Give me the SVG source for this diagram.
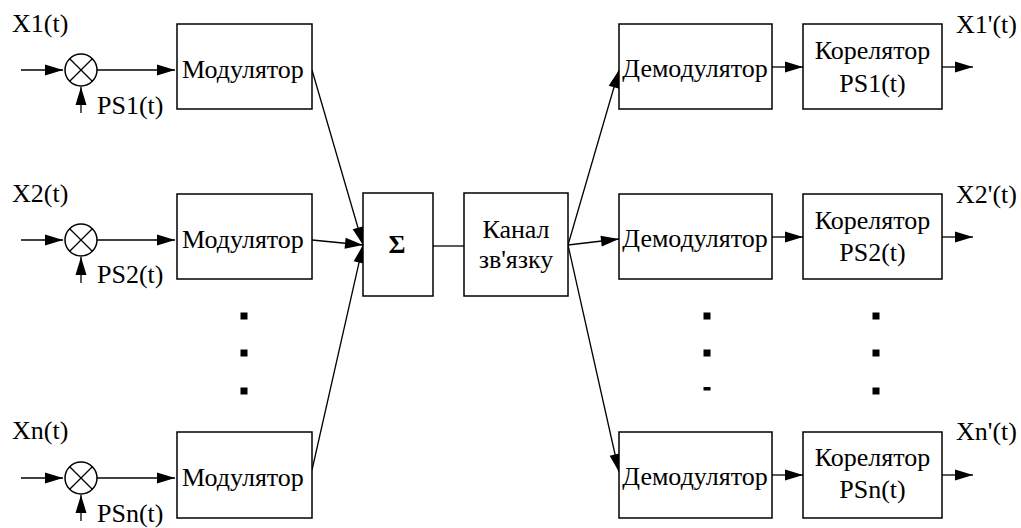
<svg xmlns="http://www.w3.org/2000/svg" width="1021" height="528" viewBox="0 0 1021 528">
<defs>
<marker id="ah" markerUnits="userSpaceOnUse" markerWidth="22" markerHeight="14" refX="18" refY="5.5" orient="auto" overflow="visible">
<path d="M0,0 L18,5.5 L0,11 Z" fill="#000"/>
</marker>
</defs>
<rect width="1021" height="528" fill="#fff"/>

<g id="connectors" fill="none" stroke="#000" stroke-width="1.3" marker-end="url(#ah)">
<line x1="21" y1="70" x2="63" y2="70"/>
<line x1="21" y1="240" x2="63" y2="240"/>
<line x1="21" y1="478" x2="63" y2="478"/>
<line x1="81" y1="113" x2="81" y2="87"/>
<line x1="81" y1="283" x2="81" y2="257"/>
<line x1="81" y1="521" x2="81" y2="495"/>
<line x1="97" y1="70" x2="175" y2="70"/>
<line x1="97" y1="240" x2="175" y2="240"/>
<line x1="97" y1="478" x2="175" y2="478"/>
<line x1="312" y1="70" x2="363" y2="245"/>
<line x1="312" y1="240" x2="363" y2="245"/>
<line x1="312" y1="470" x2="363" y2="245"/>
<line x1="433" y1="246" x2="464" y2="246" marker-end="none"/>
<line x1="568" y1="245" x2="619" y2="70"/>
<line x1="568" y1="245" x2="619" y2="239"/>
<line x1="568" y1="245" x2="619" y2="472"/>
<line x1="772" y1="67" x2="803" y2="67"/>
<line x1="772" y1="237" x2="803" y2="237"/>
<line x1="772" y1="475" x2="803" y2="475"/>
<line x1="942" y1="67" x2="973" y2="67"/>
<line x1="942" y1="237" x2="973" y2="237"/>
<line x1="942" y1="475" x2="973" y2="475"/>
</g>

<g id="labels" fill="#000">
<text style="font-family:'Liberation Serif',serif !important" font-family="Liberation Serif" font-size="26" x="12" y="32">X1(t)</text>
<text style="font-family:'Liberation Serif',serif !important" font-family="Liberation Serif" font-size="26" x="12" y="202">X2(t)</text>
<text style="font-family:'Liberation Serif',serif !important" font-family="Liberation Serif" font-size="26" x="12" y="439">Xn(t)</text>
<text style="font-family:'Liberation Serif',serif !important" font-family="Liberation Serif" font-size="26" x="97" y="114">PS1(t)</text>
<text style="font-family:'Liberation Serif',serif !important" font-family="Liberation Serif" font-size="26" x="97" y="283">PS2(t)</text>
<text style="font-family:'Liberation Serif',serif !important" font-family="Liberation Serif" font-size="26" x="97" y="522">PSn(t)</text>
<text style="font-family:'Liberation Serif',serif !important" font-family="Liberation Serif" font-size="26" x="956" y="33">X1'(t)</text>
<text style="font-family:'Liberation Serif',serif !important" font-family="Liberation Serif" font-size="26" x="956" y="203">X2'(t)</text>
<text style="font-family:'Liberation Serif',serif !important" font-family="Liberation Serif" font-size="26" x="956" y="440">Xn'(t)</text>
</g>

<g id="nodes" stroke-width="1.5">
<g id="mult1"><circle fill="#fff" stroke="#000" cx="81" cy="70" r="16"/><path fill="none" stroke="#000" stroke-width="1.3" d="M69.7,58.7 L92.3,81.3 M92.3,58.7 L69.7,81.3"/></g>
<g id="mult2"><circle fill="#fff" stroke="#000" cx="81" cy="240" r="16"/><path fill="none" stroke="#000" stroke-width="1.3" d="M69.7,228.7 L92.3,251.3 M92.3,228.7 L69.7,251.3"/></g>
<g id="multn"><circle fill="#fff" stroke="#000" cx="81" cy="478" r="16"/><path fill="none" stroke="#000" stroke-width="1.3" d="M69.7,466.7 L92.3,489.3 M92.3,466.7 L69.7,489.3"/></g>

<g id="mod1"><rect fill="#fff" stroke="#000" x="177" y="24" width="135" height="85"/><text style="font-family:'Liberation Serif',serif !important" font-family="Liberation Serif" font-size="26" text-anchor="middle" x="243" y="78">Модулятор</text></g>
<g id="mod2"><rect fill="#fff" stroke="#000" x="177" y="194" width="135" height="85"/><text style="font-family:'Liberation Serif',serif !important" font-family="Liberation Serif" font-size="26" text-anchor="middle" x="243" y="248">Модулятор</text></g>
<g id="modn"><rect fill="#fff" stroke="#000" x="177" y="432" width="135" height="86"/><text style="font-family:'Liberation Serif',serif !important" font-family="Liberation Serif" font-size="26" text-anchor="middle" x="243" y="486">Модулятор</text></g>

<g id="sum"><rect fill="#fff" stroke="#000" x="363" y="193" width="70" height="103"/><text style="font-family:'Liberation Serif',serif !important" font-family="Liberation Serif" font-size="26" font-weight="bold" text-anchor="middle" x="397" y="253">Σ</text></g>
<g id="channel"><rect fill="#fff" stroke="#000" x="464" y="193" width="104" height="103"/><text style="font-family:'Liberation Serif',serif !important" font-family="Liberation Serif" font-size="26" text-anchor="middle" x="516" y="238">Канал</text><text style="font-family:'Liberation Serif',serif !important" font-family="Liberation Serif" font-size="26" text-anchor="middle" x="516" y="268">зв'язку</text></g>

<g id="demod1"><rect fill="#fff" stroke="#000" x="619" y="24" width="153" height="85"/><text style="font-family:'Liberation Serif',serif !important" font-family="Liberation Serif" font-size="26" text-anchor="middle" x="695" y="77">Демодулятор</text></g>
<g id="demod2"><rect fill="#fff" stroke="#000" x="619" y="194" width="153" height="85"/><text style="font-family:'Liberation Serif',serif !important" font-family="Liberation Serif" font-size="26" text-anchor="middle" x="695" y="247">Демодулятор</text></g>
<g id="demodn"><rect fill="#fff" stroke="#000" x="619" y="432" width="153" height="86"/><text style="font-family:'Liberation Serif',serif !important" font-family="Liberation Serif" font-size="26" text-anchor="middle" x="695" y="485">Демодулятор</text></g>

<g id="corr1"><rect fill="#fff" stroke="#000" x="803" y="24" width="139" height="85"/><text style="font-family:'Liberation Serif',serif !important" font-family="Liberation Serif" font-size="26" text-anchor="middle" x="872.5" y="59">Корелятор</text><text style="font-family:'Liberation Serif',serif !important" font-family="Liberation Serif" font-size="26" text-anchor="middle" x="872.5" y="92">PS1(t)</text></g>
<g id="corr2"><rect fill="#fff" stroke="#000" x="803" y="194" width="139" height="85"/><text style="font-family:'Liberation Serif',serif !important" font-family="Liberation Serif" font-size="26" text-anchor="middle" x="872.5" y="229">Корелятор</text><text style="font-family:'Liberation Serif',serif !important" font-family="Liberation Serif" font-size="26" text-anchor="middle" x="872.5" y="261">PS2(t)</text></g>
<g id="corrn"><rect fill="#fff" stroke="#000" x="803" y="432" width="139" height="86"/><text style="font-family:'Liberation Serif',serif !important" font-family="Liberation Serif" font-size="26" text-anchor="middle" x="872.5" y="466">Корелятор</text><text style="font-family:'Liberation Serif',serif !important" font-family="Liberation Serif" font-size="26" text-anchor="middle" x="872.5" y="498">PSn(t)</text></g>
</g>

<g id="dots" fill="#000">
<rect x="240.5" y="312.5" width="7" height="7"/>
<rect x="240.5" y="349.5" width="7" height="7"/>
<rect x="240.5" y="387.5" width="7" height="7"/>
<rect x="703.5" y="312.5" width="7" height="7"/>
<rect x="703.5" y="349.5" width="7" height="7"/>
<rect x="703.5" y="387" width="7" height="3.5"/>
<rect x="872.5" y="312.5" width="7" height="7"/>
<rect x="872.5" y="349.5" width="7" height="7"/>
<rect x="872.5" y="387.5" width="7" height="7"/>
</g>
</svg>
